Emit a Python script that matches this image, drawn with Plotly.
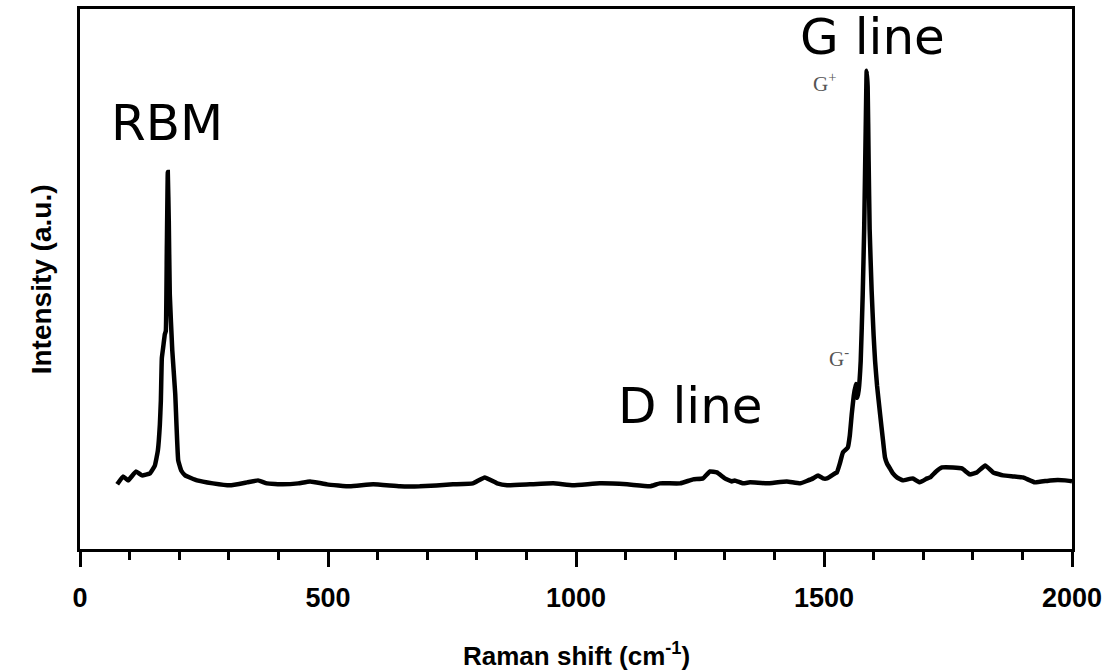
import plotly.graph_objects as go

# Raman spectrum of single-wall carbon nanotubes
raman_shift = [75, 87, 97, 113, 125, 141, 151, 157, 161, 163, 165, 168, 171, 173, 175,
               177, 179, 181, 186, 192, 198, 204, 212, 236, 268, 302, 337, 359, 377,
               409, 440, 464, 498, 544, 591, 645, 685, 752, 792, 816, 841, 861, 907,
               954, 994, 1048, 1103, 1149, 1169, 1210, 1236, 1256, 1270, 1284, 1300,
               1314, 1320, 1337, 1351, 1385, 1425, 1452, 1478, 1488, 1498, 1506, 1522,
               1526, 1532, 1538, 1548, 1552, 1556, 1560, 1564, 1567, 1570, 1574, 1578,
               1581, 1584, 1586, 1588, 1590, 1592, 1596, 1600, 1603, 1607, 1613, 1619,
               1623, 1627, 1633, 1639, 1647, 1659, 1679, 1693, 1708, 1714, 1726, 1738,
               1760, 1778, 1794, 1808, 1825, 1841, 1861, 1881, 1901, 1925, 1956, 1986,
               2000]
intensity = [65, 73, 69, 78, 74, 76, 84, 99, 125, 149, 192, 204, 216, 219, 299,
             379, 330, 256, 200, 156, 89, 79, 74, 69, 66, 64, 67, 69, 66,
             65, 66, 68, 65, 63, 65, 63, 63, 65, 66, 72, 66, 64, 65,
             66, 64, 66, 65, 63, 66, 66, 70, 71, 78, 77, 71,
             68, 69, 66, 67, 66, 68, 66, 71, 74, 71, 71, 76,
             77, 86, 97, 102, 114, 136, 154, 166, 152, 160, 189, 255,
             322, 420, 481, 465, 390, 322, 260, 215, 189, 164, 136, 109,
             92, 86, 81, 76, 72, 69, 71, 67, 71, 72, 78, 82,
             82, 81, 75, 77, 84, 77, 74, 73, 72, 67, 69, 69,
             68]

x_major_ticks = [0, 500, 1000, 1500, 2000]
x_tick_text = ["0", "500", "1000", "1500", "2000"]

# band labels: text, x position (cm^-1), y position (a.u.)
band_text = ["RBM", "D line", "G line"]
band_x = [175, 1230, 1598]
band_y = [428, 144, 515]

# G-band component labels
comp_text = ["G<sup>+</sup>", "G<sup>-</sup>"]
comp_x = [1500, 1530]
comp_y = [469, 193]

fig = go.Figure()
fig.add_trace(go.Scatter(
    x=raman_shift, y=intensity, mode="lines",
    line=dict(color="black", width=4.5, shape="spline", smoothing=0.3),
    showlegend=False, hoverinfo="skip",
))

annotations = []
for t, x, y in zip(band_text, band_x, band_y):
    annotations.append(dict(
        x=x, y=y, xref="x", yref="y", text=t, showarrow=False,
        font=dict(family="DejaVu Sans", size=50, color="black"),
        xanchor="center", yanchor="middle",
    ))
for t, x, y in zip(comp_text, comp_x, comp_y):
    annotations.append(dict(
        x=x, y=y, xref="x", yref="y", text=t, showarrow=False,
        font=dict(family="Liberation Serif", size=21, color="#555555"),
        xanchor="center", yanchor="middle",
    ))

# axis titles
annotations.append(dict(
    x=0.5, y=-0.195, xref="paper", yref="paper",
    text="Raman shift (cm<sup>-1</sup>)", showarrow=False,
    font=dict(family="Liberation Sans", size=26, color="black", weight="bold"),
    xanchor="center", yanchor="middle",
))
annotations.append(dict(
    x=-0.039, y=0.5, xref="paper", yref="paper",
    text="Intensity (a.u.)", showarrow=False, textangle=-90,
    font=dict(family="Liberation Sans", size=28, color="black", weight="bold"),
    xanchor="center", yanchor="middle",
))

fig.update_layout(
    width=1112, height=671,
    margin=dict(l=80, r=40, t=6, b=122),
    paper_bgcolor="white", plot_bgcolor="white",
    annotations=annotations,
    xaxis=dict(
        range=[0, 2000],
        showgrid=False, zeroline=False,
        showline=True, linecolor="black", linewidth=3, mirror=True,
        tickmode="array", tickvals=x_major_ticks, ticktext=x_tick_text,
        ticks="outside", ticklen=15, tickwidth=3, tickcolor="black",
        ticklabelstandoff=8,
        tickfont=dict(family="Liberation Sans", size=27, color="black", weight="bold"),
        minor=dict(dtick=100, tick0=0, ticks="outside", ticklen=8,
                   tickwidth=3, tickcolor="black", showgrid=False),
    ),
    yaxis=dict(
        range=[0, 543],
        showgrid=False, zeroline=False,
        showline=True, linecolor="black", linewidth=3, mirror=True,
        ticks="", showticklabels=False,
    ),
)

fig.write_html("out.html")
